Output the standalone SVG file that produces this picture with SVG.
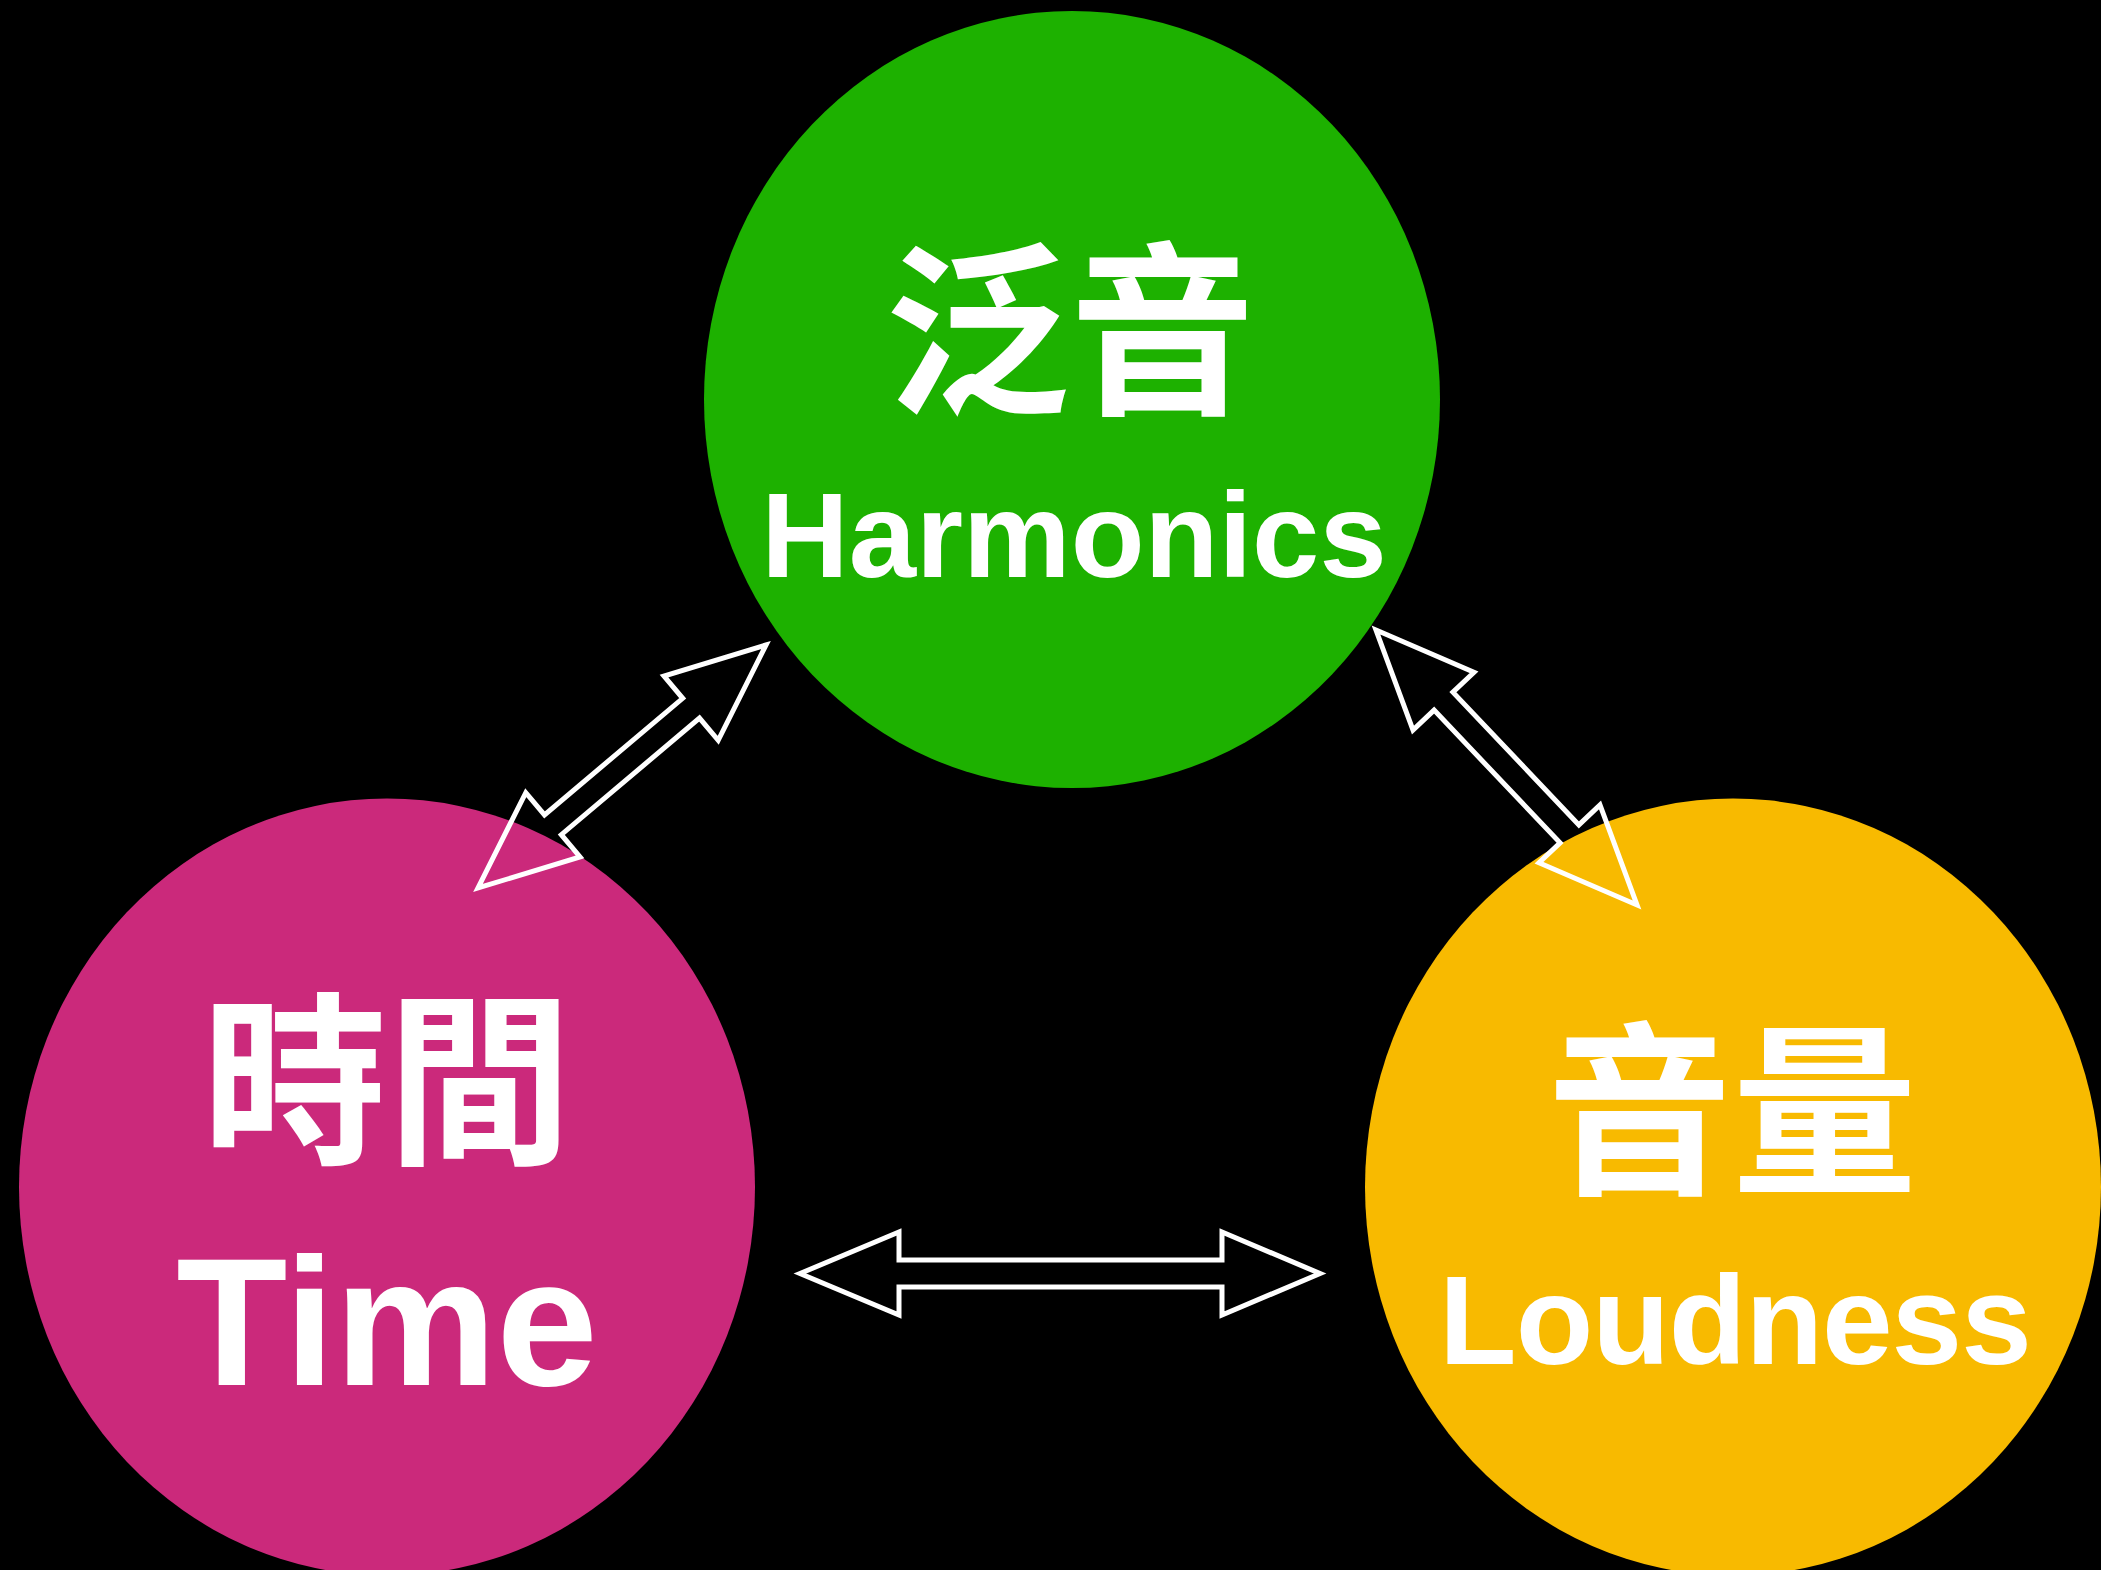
<svg xmlns="http://www.w3.org/2000/svg" width="2101" height="1570" viewBox="0 0 2101 1570">
  <style>
    .cjk { font-family: "Noto Sans CJK TC", "Noto Sans CJK SC", sans-serif; font-weight: 700; font-size: 185px; fill: #ffffff; text-anchor: middle; }
    .en { font-family: "Liberation Sans", Arial, Helvetica, sans-serif; font-weight: 700; fill: #ffffff; text-anchor: middle; }
    .arrow { fill: none; stroke: #ffffff; stroke-width: 5; stroke-linejoin: miter; stroke-miterlimit: 10; }
  </style>
  <rect x="0" y="0" width="2101" height="1570" fill="#000000"/>
  <g id="node-harmonics">
    <ellipse cx="1072" cy="399.5" rx="368" ry="388.5" fill="#1DB100"/>
    <text class="cjk" x="1070" y="400">泛音</text>
    <text class="en" x="1074" y="577" font-size="121">Harmonics</text>
  </g>
  <g id="node-time">
    <ellipse cx="387" cy="1187" rx="368" ry="388.5" fill="#CB297B"/>
    <text class="cjk" x="387" y="1150">時間</text>
    <text class="en" x="387" y="1385" font-size="182">Time</text>
  </g>
  <g id="node-loudness">
    <ellipse cx="1733" cy="1187" rx="368" ry="388.5" fill="#F8BA00"/>
    <text class="cjk" x="1732" y="1180">音量</text>
    <text class="en" x="1735" y="1364" font-size="127" letter-spacing="-1">Loudness</text>
  </g>
  <g id="connectors">
    <polygon class="arrow" points="766,645 664,676.1 682.7,698.3 544.5,814.9 525.8,792.7 478,888 580,856.9 561.3,834.7 699.5,718.1 718.2,740.3"/>
    <polygon class="arrow" points="1376,630 1474,672.2 1452.9,692.1 1578.9,824.9 1600,805 1637,905 1539,862.8 1560.1,842.9 1434.1,710.1 1413,730"/>
    <polygon class="arrow" points="800,1273.5 899,1232 899,1260 1222,1260 1222,1232 1320,1273.5 1222,1315 1222,1287 899,1287 899,1315"/>
  </g>
</svg>
